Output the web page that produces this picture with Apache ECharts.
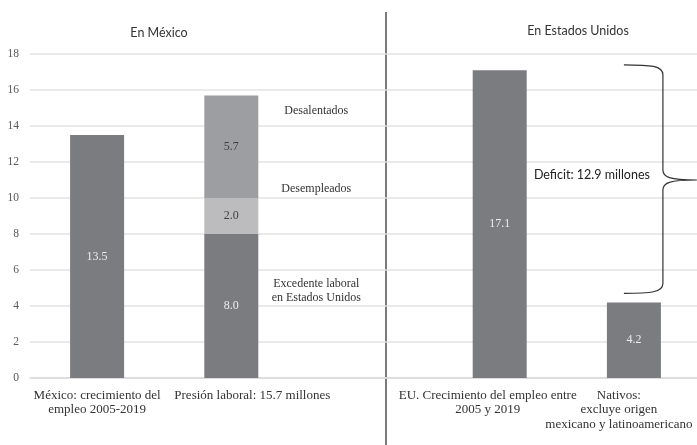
<!DOCTYPE html>
<html>
<head>
<meta charset="utf-8">
<script src="https://cdn.jsdelivr.net/npm/echarts@6/dist/echarts.min.js"></script>
<style>html,body{margin:0;padding:0;background:#fff}#c{width:697px;height:445px}</style>
</head>
<body>
<div id="c"></div>
<script>
// ---- data ----
const categories = [
  'México: crecimiento del\nempleo 2005-2019',
  'Presión laboral: 15.7 millones',
  '',
  'EU. Crecimiento del empleo entre\n2005 y 2019',
  'Nativos:\nexcluye origen\nmexicano y latinoamericano'
];
const baseValues = [13.5, 8.0, null, 17.1, 4.2];        // empleo / excedente laboral
const desempleados = [null, 2.0, null, null, null];
const desalentados = [null, 5.7, null, null, null];
const yTicks = { min: 0, max: 18, interval: 2 };
const panelTitles = ['En México', 'En Estados Unidos'];
const annotTexts = ['Desalentados', 'Desempleados', 'Excedente laboral\nen Estados Unidos'];
const annotY = [14.85, 10.5, 4.85];
const deficitText = 'Deficit: 12.9 millones';
const braceRange = [4.7, 17.4, 11.0]; // bottom, top, tip

const serif = "'Liberation Serif', 'Times New Roman', Times, serif";
const sans = "Lato, 'Open Sans', sans-serif";

const chart = echarts.init(document.getElementById('c'), null, { renderer: 'canvas' });

const barLabel = (color) => ({
  show: true, position: 'inside', color: color,
  fontFamily: serif, fontSize: 12,
  formatter: p => (p.value == null ? '' : Number(p.value).toFixed(1))
});

const labelPad = [null, [0, 0, 0, 42], null, [0, 24, 0, 0], [0, 30, 0, 0]];

chart.setOption({
  animation: false,
  backgroundColor: '#fff',
  grid: { left: 30, top: 54, width: 671, height: 324, containLabel: false, outerBoundsMode: 'none' },
  xAxis: {
    type: 'category',
    data: categories.map((c, i) => labelPad[i] ? { value: c, textStyle: { padding: labelPad[i] } } : c),
    axisTick: { show: false },
    axisLine: { lineStyle: { color: '#d9d9d9', width: 1.5 } },
    axisLabel: { interval: 0, color: '#333', fontFamily: serif, fontSize: 13, lineHeight: 14.5, margin: 10, hideOverlap: false }
  },
  yAxis: {
    type: 'value', min: yTicks.min, max: yTicks.max, interval: yTicks.interval,
    axisLine: { show: false }, axisTick: { show: false },
    axisLabel: { color: '#595959', fontFamily: serif, fontSize: 11.5, margin: 11 },
    splitLine: { lineStyle: { color: '#e3e3e3', width: 1.5 } }
  },
  series: [
    { type: 'bar', stack: 'a', data: baseValues, barWidth: 54,
      itemStyle: { color: '#7b7c80' }, label: barLabel('#ececec') },
    { type: 'bar', stack: 'a', data: desempleados, barWidth: 54,
      itemStyle: { color: '#bcbcbf' }, label: barLabel('#404040') },
    { type: 'bar', stack: 'a', data: desalentados, barWidth: 54,
      itemStyle: { color: '#9d9ea2' }, label: barLabel('#404040') },
    { // annotations next to the stacked bar
      type: 'custom', clip: false, silent: true,
      data: annotY.map(v => [1, v]),
      renderItem: (params, api) => {
        const p = api.coord([api.value(0), api.value(1)]);
        return { type: 'text', x: p[0] + 85, y: p[1],
          style: { text: annotTexts[params.dataIndex], fill: '#333', font: '12px ' + serif,
                   align: 'center', verticalAlign: 'middle', lineHeight: 14 } };
      }
    },
    { // deficit brace
      type: 'custom', clip: false, silent: true,
      data: [[4, braceRange[0], braceRange[1], braceRange[2]]],
      renderItem: (params, api) => {
        const cx = api.coord([api.value(0), 0])[0];
        const yBot = api.coord([api.value(0), api.value(1)])[1];
        const yTop = api.coord([api.value(0), api.value(2)])[1];
        const yMid = api.coord([api.value(0), api.value(3)])[1];
        const xL = cx - 10, xV = cx + 29, xT = cx + 63;
        const d = `M${xL},${yTop} C${xV - 12},${yTop} ${xV},${yTop + 1} ${xV},${yTop + 10} ` +
                  `L${xV},${yMid - 10} C${xV},${yMid - 3} ${xV + 6},${yMid} ${xT},${yMid} ` +
                  `C${xV + 6},${yMid} ${xV},${yMid + 3} ${xV},${yMid + 10} ` +
                  `L${xV},${yBot - 10} C${xV},${yBot - 1} ${xV - 12},${yBot} ${xL},${yBot}`;
        return { type: 'group', children: [
          { type: 'path', shape: { pathData: d }, style: { fill: null, stroke: '#333', lineWidth: 1.2 } },
          { type: 'text', x: xV - 71, y: yMid - 5,
            style: { text: deficitText, fill: '#222', font: '12.5px ' + sans, align: 'center', verticalAlign: 'middle' } }
        ] };
      }
    }
  ],
  graphic: [
    { type: 'text', x: 159, y: 33, style: { text: panelTitles[0], fill: '#333', font: '12.5px ' + sans, align: 'center', verticalAlign: 'middle' } },
    { type: 'text', x: 578, y: 31, style: { text: panelTitles[1], fill: '#333', font: '12.5px ' + sans, align: 'center', verticalAlign: 'middle' } },
    { type: 'line', shape: { x1: 386, y1: 12, x2: 386, y2: 445 }, style: { stroke: '#333', lineWidth: 1.3 } }
  ]
});
</script>
</body>
</html>
